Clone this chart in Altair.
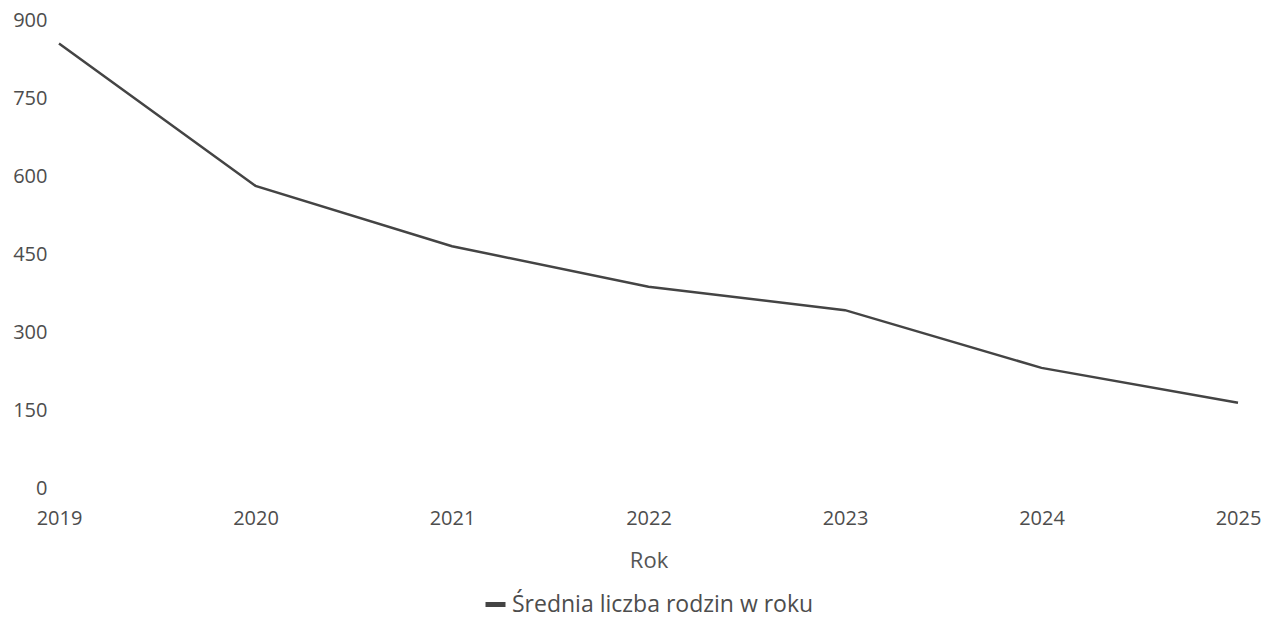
import altair as alt
import pandas as pd

years = [2019, 2020, 2021, 2022, 2023, 2024, 2025]
values = [855, 581, 465, 387, 342, 231, 164]
series_name = "Średnia liczba rodzin w roku"

df = pd.DataFrame({"Rok": years, "Wartość": values, "Seria": [series_name] * len(years)})

font = "Open Sans"
txt = "#4d4d4d"

chart = alt.Chart(df).mark_line(strokeWidth=2.5).encode(
    x=alt.X("Rok:Q",
            scale=alt.Scale(domain=[2019, 2025], nice=False, zero=False),
            axis=alt.Axis(values=years, format="d", title="Rok", grid=False, domain=False,
                          ticks=False, labelPadding=20, labelFontSize=20, labelColor=txt,
                          labelFont=font, titleFont=font, titleFontSize=22, titleFontWeight="normal",
                          titleColor="#555", titlePadding=22, labelFlush=False)),
    y=alt.Y("Wartość:Q",
            scale=alt.Scale(domain=[0, 900], nice=False),
            axis=alt.Axis(values=[0, 150, 300, 450, 600, 750, 900], title=None, grid=False,
                          domain=False, ticks=False,
                          labelPadding=12, labelFontSize=20, labelColor=txt, labelFont=font)),
    color=alt.Color("Seria:N", scale=alt.Scale(range=["#444444"]),
                    legend=alt.Legend(title=None, orient="none", legendX=424, legendY=572,
                                      direction="horizontal",
                                      symbolType="stroke", symbolStrokeWidth=5, symbolSize=400,
                                      labelFontSize=23, labelColor=txt, labelFont=font,
                                      labelLimit=500, padding=0)),
).properties(
    width=1179, height=468,
    padding={"left": 51, "top": 12, "right": 24, "bottom": 130},
    autosize=alt.AutoSizeParams(type="none"),
).configure(background="white").configure_view(stroke=None)

chart.save("out.html", embed_options={"renderer": "svg", "actions": False})
